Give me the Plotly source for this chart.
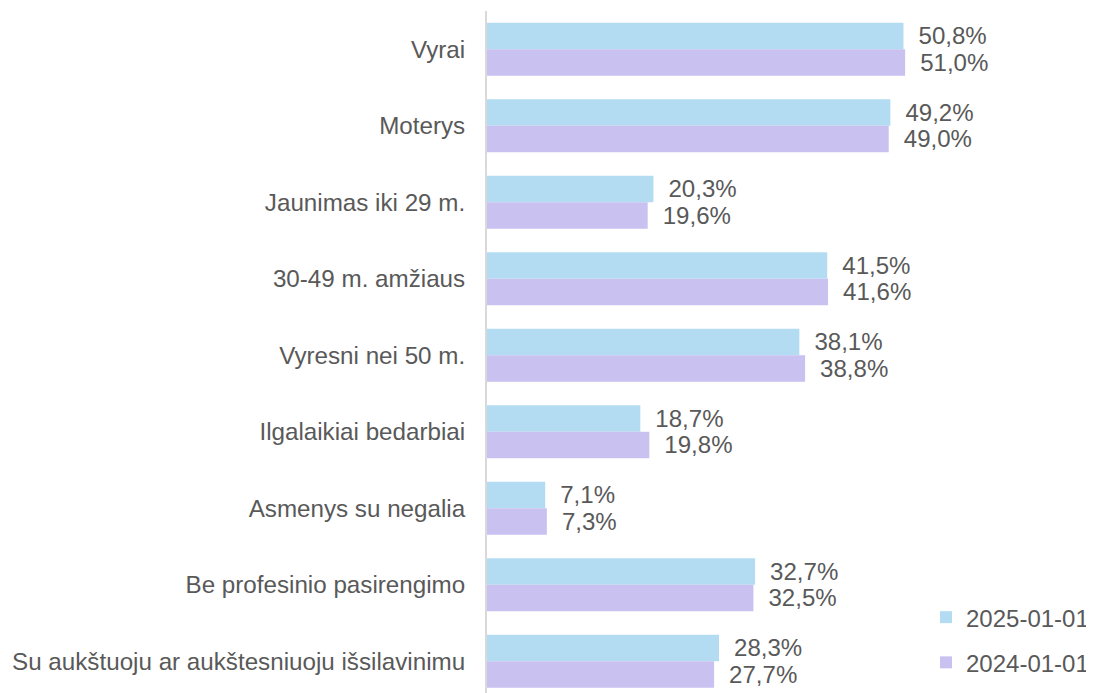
import plotly.graph_objects as go

# Data
categories = ["Vyrai", "Moterys", "Jaunimas iki 29 m.", "30-49 m. amžiaus",
              "Vyresni nei 50 m.", "Ilgalaikiai bedarbiai", "Asmenys su negalia",
              "Be profesinio pasirengimo", "Su aukštuoju ar aukštesniuoju išsilavinimu"]
share_2025 = [50.8, 49.2, 20.3, 41.5, 38.1, 18.7, 7.1, 32.7, 28.3]
share_2024 = [51.0, 49.0, 19.6, 41.6, 38.8, 19.8, 7.3, 32.5, 27.7]
series_names = ["2025-01-01", "2024-01-01"]

grey = "#595959"
font = dict(family="Liberation Sans, Arial, sans-serif", size=24.5, color=grey)
tick_font = dict(font, size=24.2)
legend_font = dict(font, size=24)

fig = go.Figure()
for name, vals, col, grp in [(series_names[0], share_2025, "#B3DCF2", "a"),
                             (series_names[1], share_2024, "#C9C2F0", "b")]:
    fig.add_trace(go.Bar(y=categories, x=vals, name=name, orientation="h",
                         marker=dict(color=col, line_width=0),
                         texttemplate="\u2002%{x:.1f}%", textposition="outside",
                         textfont=font, cliponaxis=False, legendgroup=grp))

# Layout (page body adds an 8px margin, so the figure is 8px smaller)
fig.update_layout(width=1086, height=685,
                  margin=dict(l=479, r=20, t=3, b=0, autoexpand=False),
                  plot_bgcolor="white", paper_bgcolor="white",
                  separators=",.",
                  barmode="group", bargap=0.307, bargroupgap=0,
                  font=font,
                  showlegend=True,
                  legend=dict(xref="container", yref="container",
                              x=1.0, xanchor="right", y=0.143, yanchor="top",
                              font=legend_font, tracegroupgap=11, bgcolor="rgba(0,0,0,0)"))

fig.update_xaxes(range=[0, 71.6], visible=False)
fig.update_yaxes(range=[8.415, -0.5], showline=True, linecolor="#D9D9D9", linewidth=2,
                 ticks="", showgrid=False, ticklabelstandoff=15, tickfont=tick_font)

fig.write_html("out.html")
